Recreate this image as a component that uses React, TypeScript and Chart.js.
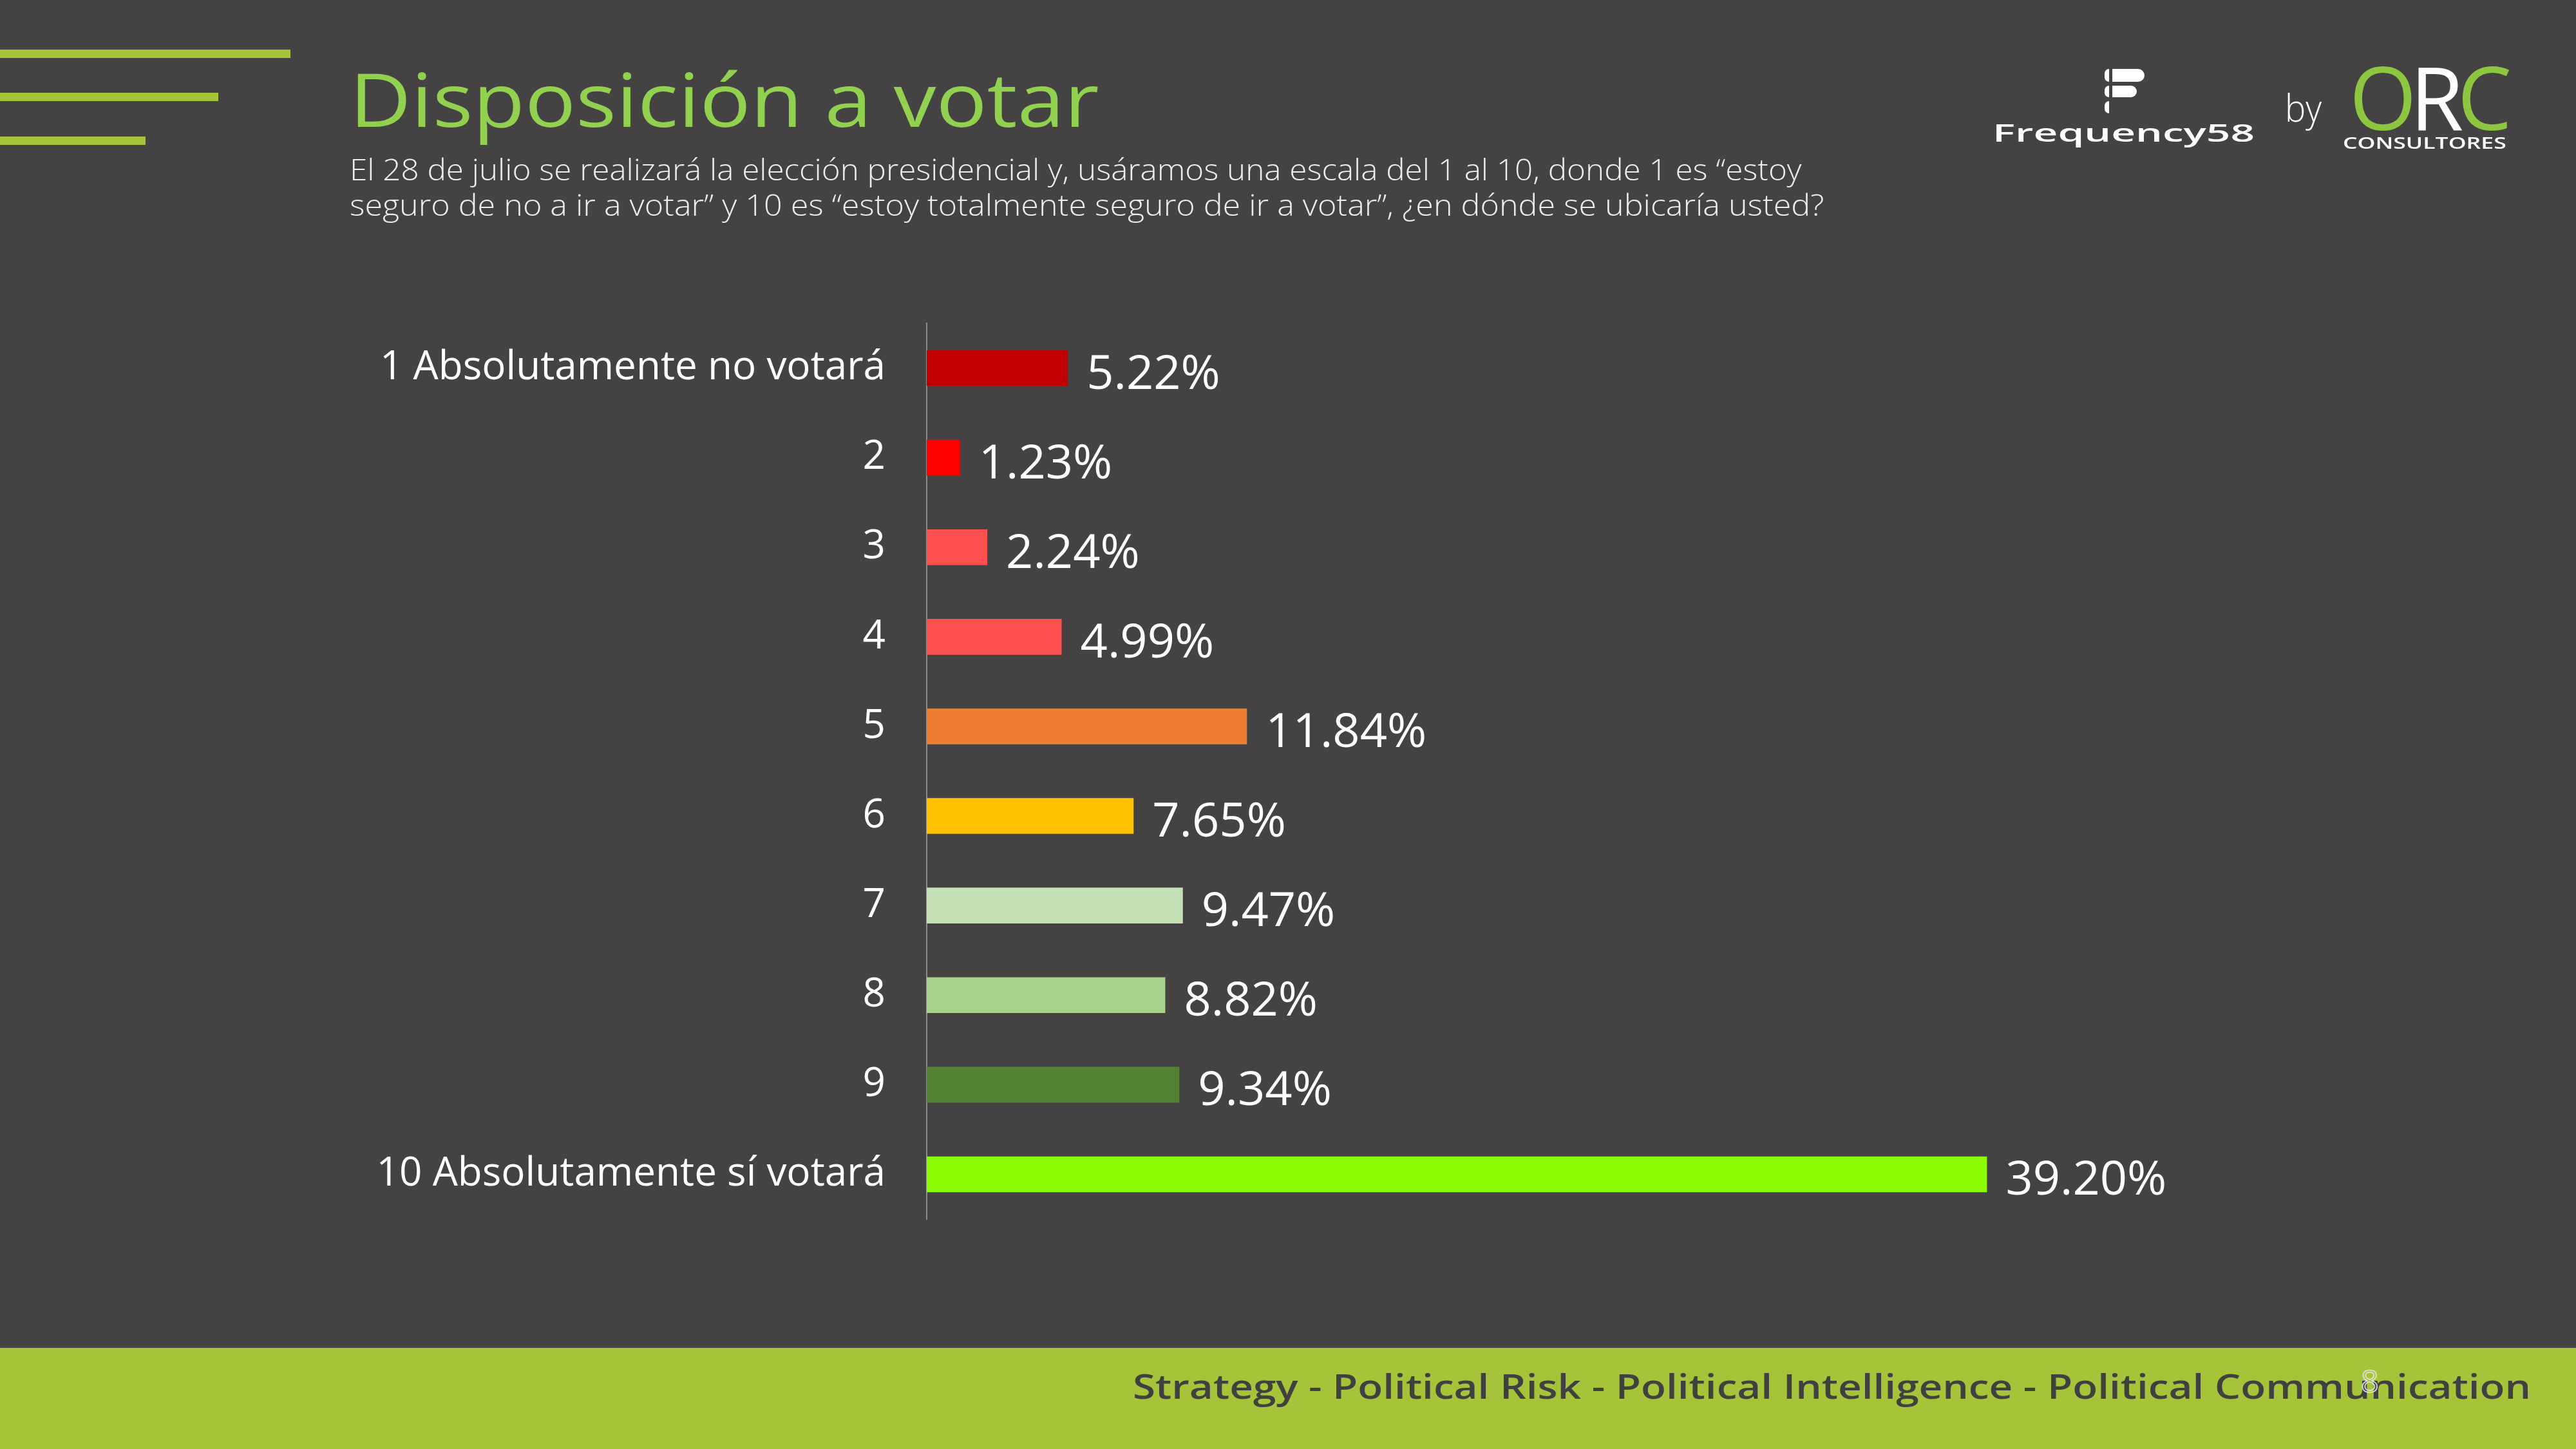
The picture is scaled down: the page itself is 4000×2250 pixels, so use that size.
import React, { useEffect, useLayoutEffect, useRef, useState } from "react";
import { Chart, registerables } from "chart.js";

Chart.register(...registerables);

const categories = [
  "1 Absolutamente no votará",
  "2",
  "3",
  "4",
  "5",
  "6",
  "7",
  "8",
  "9",
  "10 Absolutamente sí votará",
];
const values = [5.22, 1.23, 2.24, 4.99, 11.84, 7.65, 9.47, 8.82, 9.34, 39.2];
const barColors = [
  "#C00000",
  "#FF0000",
  "#FF5050",
  "#FF5050",
  "#ED7D31",
  "#FFC000",
  "#C5E0B4",
  "#A9D18E",
  "#548235",
  "#8CFA00",
];

const titleText = "Disposición a votar";
const subtitleLines = [
  "El 28 de julio se realizará la elección presidencial y, usáramos una escala del 1 al 10, donde 1 es “estoy",
  "seguro de no a ir a votar” y 10 es “estoy totalmente seguro de ir a votar”, ¿en dónde se ubicaría usted?",
];
const footerText =
  "Strategy - Political Risk - Political Intelligence - Political Communication";

const FONT = "'Open Sans', 'Noto Sans', sans-serif";
const BG = "#444243";
const LIME = "#A6C43A";

type FitProps = {
  text: React.ReactNode;
  left: number;
  baseline: number;
  width: number;
  size: number;
  weight?: number | string;
  color?: string;
  extra?: React.CSSProperties;
};

function FitText({ text, left, baseline, width, size, weight = 400, color = "#fff", extra }: FitProps) {
  const ref = useRef<HTMLSpanElement>(null);
  const [sx, setSx] = useState(1);
  useLayoutEffect(() => {
    if (ref.current) {
      const w = ref.current.offsetWidth;
      if (w > 0) setSx(width / w);
    }
  }, [width, size]);
  return (
    <span
      ref={ref}
      style={{
        position: "absolute",
        left,
        top: baseline - 0.888 * size,
        fontFamily: FONT,
        fontSize: size,
        lineHeight: `${size}px`,
        fontWeight: weight as any,
        color,
        whiteSpace: "nowrap",
        transform: `scaleX(${sx})`,
        transformOrigin: "0 0",
        display: "inline-block",
        ...extra,
      }}
    >
      {text}
    </span>
  );
}

const valueLabelPlugin = {
  id: "valueLabels",
  afterDatasetsDraw(chart: any) {
    const ctx = chart.ctx;
    const meta = chart.getDatasetMeta(0);
    ctx.save();
    ctx.font = `400 74px ${FONT}`;
    ctx.fillStyle = "#FFFFFF";
    ctx.textAlign = "left";
    ctx.textBaseline = "alphabetic";
    meta.data.forEach((el: any, i: number) => {
      const v = chart.data.datasets[0].data[i] as number;
      ctx.fillText(v.toFixed(2) + "%", el.x + 29, el.y + 32);
    });
    ctx.restore();
  },
};

function BarChart() {
  const canvasRef = useRef<HTMLCanvasElement>(null);
  useEffect(() => {
    if (!canvasRef.current) return;
    const chart = new Chart(canvasRef.current, {
      type: "bar",
      data: {
        labels: categories,
        datasets: [
          {
            data: values,
            backgroundColor: barColors,
            borderWidth: 0,
            categoryPercentage: 0.8,
            barPercentage: 0.5,
          },
        ],
      },
      options: {
        indexAxis: "y",
        responsive: false,
        animation: false,
        devicePixelRatio: 1,
        layout: { padding: { top: 502, bottom: 357, left: 0, right: 461 } },
        plugins: {
          legend: { display: false },
          tooltip: { enabled: false },
          title: { display: false },
        },
        scales: {
          x: { display: false, min: 0, max: 50 },
          y: {
            afterFit(scale: any) {
              scale.width = 1439;
            },
            grid: { display: false, drawTicks: false },
            border: { display: true, color: "#8C8C8C", width: 2 },
            ticks: {
              color: "#FFFFFF",
              padding: 64,
              font: { family: FONT, size: 62, weight: "400" as any },
            },
          },
        },
      },
      plugins: [valueLabelPlugin],
    });
    return () => chart.destroy();
  }, []);
  return (
    <canvas
      ref={canvasRef}
      width={4000}
      height={2250}
      style={{ position: "absolute", left: 0, top: 0, width: 4000, height: 2250 }}
    />
  );
}

export default function App() {
  return (
    <div
      style={{
        position: "absolute",
        left: 0,
        top: 0,
        width: 4000,
        height: 2250,
        background: BG,
        overflow: "hidden",
        fontFamily: FONT,
      }}
    >
      {/* decorative stripes */}
      <div style={{ position: "absolute", left: 0, top: 77, width: 451, height: 13, background: LIME }} />
      <div style={{ position: "absolute", left: 0, top: 144, width: 339, height: 13, background: LIME }} />
      <div style={{ position: "absolute", left: 0, top: 212, width: 226, height: 13, background: LIME }} />

      <BarChart />

      {/* title & subtitle */}
      <FitText text={titleText} left={543} baseline={197} width={1164} size={115} weight={400} color="#92D050" />
      <FitText text={subtitleLines[0]} left={543} baseline={280} width={2255} size={46} weight={300} color="#EDEDED" />
      <FitText text={subtitleLines[1]} left={543} baseline={335} width={2289} size={46} weight={300} color="#EDEDED" />

      {/* logos */}
      <div style={{ position: "absolute", left: 3280, top: 107, width: 50, height: 20, background: "#fff", borderRadius: "0 10px 10px 0" }} />
      <div style={{ position: "absolute", left: 3280, top: 133, width: 38, height: 18, background: "#fff", borderRadius: "0 9px 9px 0" }} />
      <div style={{ position: "absolute", left: 3268, top: 107, width: 7, height: 20, background: "#fff", borderRadius: "7px 0 0 7px" }} />
      <div style={{ position: "absolute", left: 3268, top: 133, width: 7, height: 18, background: "#fff", borderRadius: "7px 0 0 7px" }} />
      <div style={{ position: "absolute", left: 3268, top: 157, width: 7, height: 19, background: "#fff", borderRadius: "7px 0 0 7px" }} />
      <FitText text="Frequency58" left={3094} baseline={220} width={407} size={38} weight={600} color="#FFFFFF" />
      <FitText text="by" left={3548} baseline={190} width={57} size={58} weight={300} color="#FFFFFF" />
      <FitText
        text={
          <>
            <span style={{ color: "#8DC63F" }}>O</span>
            <span style={{ color: "#FFFFFF" }}>R</span>
            <span style={{ color: "#8DC63F" }}>C</span>
          </>
        }
        left={3648}
        baseline={203}
        width={242}
        size={136}
        weight={400}
        extra={{ letterSpacing: -10 }}
      />
      <FitText text="CONSULTORES" left={3638} baseline={231} width={253} size={25} weight={600} color="#FFFFFF" />

      {/* footer */}
      <div style={{ position: "absolute", left: 0, top: 2093, width: 4000, height: 157, background: LIME }} />
      <FitText text={footerText} left={1759} baseline={2172} width={2171} size={52} weight={600} color="#404040" />
      <span
        style={{
          position: "absolute",
          left: 3666,
          top: 2120,
          fontFamily: FONT,
          fontSize: 48,
          lineHeight: "48px",
          color: "transparent",
          WebkitTextStroke: "1.5px #E6E6E6",
        }}
      >
        8
      </span>
    </div>
  );
}
